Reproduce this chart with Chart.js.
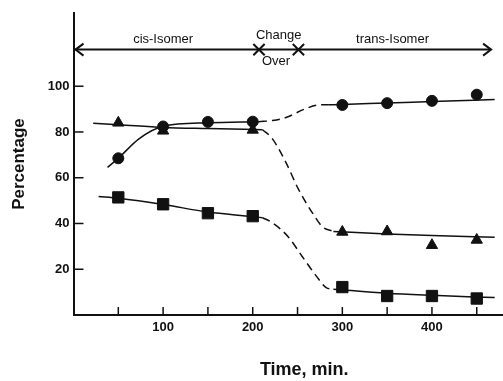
<!DOCTYPE html>
<html>
<head>
<meta charset="utf-8">
<script src="https://cdn.jsdelivr.net/npm/chart.js@4"></script>
<style>
  html, body { margin: 0; padding: 0; background: #fff; }
  #wrap { width: 503px; height: 381px; overflow: hidden; }
</style>
</head>
<body>
<div id="wrap"><canvas id="c" width="545" height="381"></canvas></div>
<script>
// measured points
const circleX = [50, 100, 150, 200, 300, 350, 400, 450];
const circleY = [68.5, 82.4, 84.4, 84.5, 91.8, 92.6, 93.6, 96.3];
const triX = [50, 100, 200, 300, 350, 400, 450];
const triY = [84, 80.5, 80.9, 36.3, 36.5, 30.5, 32.8];
const squareX = [50, 100, 150, 200, 300, 350, 400, 450];
const squareY = [51.4, 48.4, 44.5, 43.2, 12.2, 8.3, 8.3, 7.2];

// hand-drawn fit curves (solid / dashed change-over / solid)
const circleCisX = [38, 50, 73, 100, 150, 207];
const circleCisY = [64.5, 68.5, 77, 82.5, 84, 84.5];
const circleOverX = [207, 222, 237, 258, 273, 285];
const circleOverY = [84.5, 85, 86.3, 90, 91.8, 91.9];
const circleTransX = [285, 300, 350, 400, 470];
const circleTransY = [91.9, 92, 92.7, 93.3, 94.2];

const triCisX = [22, 50, 100, 150, 211];
const triCisY = [83.8, 83.2, 82, 81.5, 81];
const triOverX = [211, 222, 237, 251, 266, 278, 290];
const triOverY = [81, 77, 66.7, 55, 45, 38.5, 36.5];
const triTransX = [290, 350, 400, 470];
const triTransY = [36.5, 35.4, 34.7, 34];

const sqCisX = [28, 50, 100, 150, 200, 211];
const sqCisY = [51.8, 51, 48.3, 45, 43, 42.5];
const sqOverX = [211, 222, 240, 255, 271, 282, 290];
const sqOverY = [42.5, 40.3, 34, 25.7, 17, 12, 11.3];
const sqTransX = [290, 350, 400, 470];
const sqTransY = [11.3, 9.5, 8.6, 7.6];

// phase bar across the top
const phaseX = [0, 466];
const phaseLevel = 116;
const changeX = [207, 251];

const pts = (xs, ys) => xs.map((x, i) => ({x: x, y: ys[i]}));
const flat = (xs, v) => xs.map(x => ({x: x, y: v}));

const INK = '#111';
Chart.defaults.font.family = '"Liberation Sans", Arial, sans-serif';
Chart.defaults.color = INK;

function marks(label, xs, ys, style, r) {
  return {label: label, data: pts(xs, ys), pointStyle: style, pointRadius: r,
    backgroundColor: INK, borderColor: INK, borderWidth: 1, showLine: false};
}
function curve(label, xs, ys, dashed) {
  return {label: label, data: pts(xs, ys), showLine: true, pointRadius: 0,
    borderColor: INK, borderWidth: 1.5, borderDash: dashed ? [8, 5] : [],
    cubicInterpolationMode: 'monotone', fill: false};
}

const extras = {
  id: 'extras',
  afterDraw(chart) {
    const ctx = chart.ctx, xs = chart.scales.x, ys = chart.scales.y;
    const area = chart.chartArea;
    ctx.save();
    ctx.strokeStyle = INK;
    ctx.lineWidth = 1.5;
    // inward tick marks
    xs.ticks.forEach(t => {
      if (t.value <= 0) return;
      const px = xs.getPixelForValue(t.value);
      ctx.beginPath(); ctx.moveTo(px, area.bottom); ctx.lineTo(px, area.bottom - 8); ctx.stroke();
    });
    ys.ticks.forEach(t => {
      if (t.value <= 0 || t.value > 100) return;
      const py = ys.getPixelForValue(t.value);
      ctx.beginPath(); ctx.moveTo(area.left, py); ctx.lineTo(area.left + 10, py); ctx.stroke();
    });
    // arrow heads on the phase bar
    const py = ys.getPixelForValue(phaseLevel);
    const lx = xs.getPixelForValue(phaseX[0]) + 2;
    const rx = xs.getPixelForValue(phaseX[1]);
    ctx.lineWidth = 2;
    ctx.beginPath();
    ctx.moveTo(lx + 8, py - 6); ctx.lineTo(lx, py); ctx.lineTo(lx + 8, py + 6);
    ctx.moveTo(rx - 8, py - 6); ctx.lineTo(rx, py); ctx.lineTo(rx - 8, py + 6);
    ctx.stroke();
    // phase labels
    ctx.fillStyle = INK;
    ctx.textAlign = 'center';
    ctx.textBaseline = 'middle';
    ctx.font = '13px "Liberation Sans", Arial, sans-serif';
    const mid = (changeX[0] + changeX[1]) / 2;
    [['cis-Isomer', 100, 120.6], ['Change', mid, 122.2], ['Over', mid - 3, 111], ['trans-Isomer', 356, 120.6]]
      .forEach(([s, x, y]) => ctx.fillText(s, xs.getPixelForValue(x), ys.getPixelForValue(y)));
    ctx.restore();
  }
};

new Chart(document.getElementById('c'), {
  type: 'scatter',
  data: {
    datasets: [
      marks('circles', circleX, circleY, 'circle', 5.5),
      marks('triangles', triX, triY, 'triangle', 6.5),
      marks('squares', squareX, squareY, 'rect', 8),
      {label: 'change', data: flat(changeX, phaseLevel), pointStyle: 'crossRot', pointRadius: 8,
        borderColor: INK, borderWidth: 2, showLine: false},
      {label: 'phase', data: flat(phaseX, phaseLevel), showLine: true, pointRadius: 0,
        borderColor: INK, borderWidth: 2},
      curve('c1', circleCisX, circleCisY, false),
      curve('c2', circleOverX, circleOverY, true),
      curve('c3', circleTransX, circleTransY, false),
      curve('t1', triCisX, triCisY, false),
      curve('t2', triOverX, triOverY, true),
      curve('t3', triTransX, triTransY, false),
      curve('s1', sqCisX, sqCisY, false),
      curve('s2', sqOverX, sqOverY, true),
      curve('s3', sqTransX, sqTransY, false)
    ]
  },
  options: {
    responsive: false,
    animation: false,
    layout: {padding: {top: 13, left: 0, right: 0, bottom: 0}},
    plugins: {legend: {display: false}, tooltip: {enabled: false}},
    scales: {
      x: {
        type: 'linear', min: 0, max: 515,
        grid: {display: false, drawTicks: false},
        border: {display: true, color: INK, width: 2},
        ticks: {stepSize: 50, padding: 5, autoSkip: false, maxRotation: 0,
          font: {size: 13, weight: 'bold'},
          callback: v => (v % 100 === 0 && v > 0 && v < 500) ? v : ''},
        title: {display: true, text: 'Time, min.', font: {size: 18, weight: 'bold'},
          padding: {top: 0, bottom: 0}},
        afterFit: s => { s.height = 66; }
      },
      y: {
        type: 'linear', min: 0, max: 132,
        grid: {display: false, drawTicks: false},
        border: {display: true, color: INK, width: 2},
        ticks: {stepSize: 20, padding: 4, font: {size: 13, weight: 'bold'},
          callback: v => (v > 0 && v <= 100) ? v : ''},
        title: {display: true, text: 'Percentage', font: {size: 17, weight: 'bold'},
          padding: {top: 9, bottom: 0}},
        afterFit: s => { s.width = 73.5; }
      }
    }
  },
  plugins: [extras]
});
</script>
</body>
</html>
